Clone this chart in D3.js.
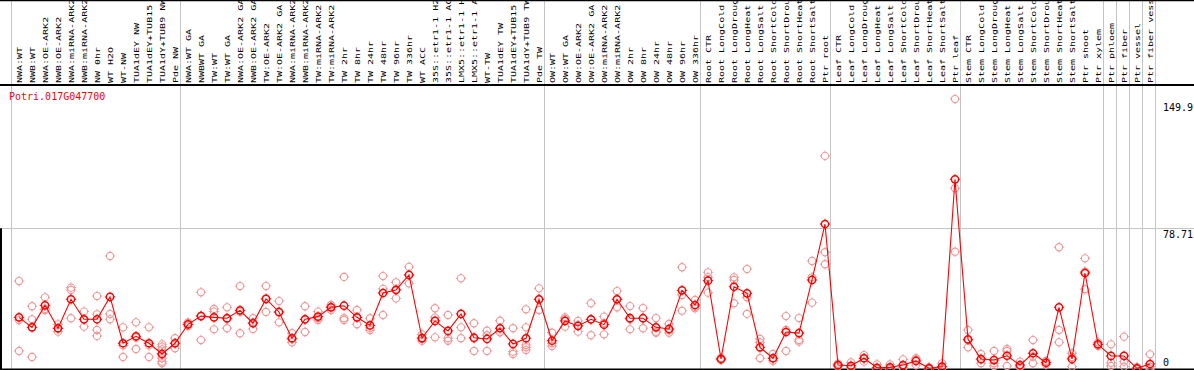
<!DOCTYPE html>
<html><head><meta charset="utf-8">
<script src="https://cdn.jsdelivr.net/npm/d3@7"></script>
<style>body{margin:0;background:#fff}svg{display:block}</style>
</head><body><svg id="c" width="1194" height="370"></svg>
<script>
const geneId = "Potri.017G047700";
const categories = [
 "NWA:WT","NWB:WT","NWA:OE-ARK2","NWB:OE-ARK2","NWA:miRNA-ARK2","NWB:miRNA-ARK2","NW 0hr","WT H2O","WT-NW","TUA1dEY NW","TUA1dEY+TUB15 NW","TUA1dY+TUB9 NW","Pde NW",
 "NWA:WT GA","NWBWT GA","TW:WT","TW:WT GA","NWA:OE-ARK2 GA","NWB:OE-ARK2 GA","TW:OE-ARK2","TW:OE-ARK2 GA","NWA:miRNA-ARK2 GA","NWB:miRNA-ARK2 GA","TW:miRNA-ARK2","TW:miRNA-ARK2 GA","TW 2hr","TW 8hr","TW 24hr","TW 48hr","TW 96hr","TW 336hr","WT ACC","35S::etr1-1 H2O","35S::etr1-1 ACC","LMX5::etr1-1 H2O","LMX5::etr1-1 ACC","WT-TW","TUA1dEY TW","TUA1dEY+TUB15 TW","TUA1dY+TUB9 TW","Pde TW",
 "OW:WT","OW:WT GA","OW:OE-ARK2","OW:OE-ARK2 GA","OW:miRNA-ARK2","OW:miRNA-ARK2 GA","OW 2hr","OW 8hr","OW 24hr","OW 48hr","OW 96hr","OW 336hr",
 "Root CTR","Root LongCold","Root LongDrought","Root LongHeat","Root LongSalt","Root ShortCold","Root ShortDrought","Root ShortHeat","Root ShortSalt","Ptr root",
 "Leaf CTR","Leaf LongCold","Leaf LongDrought","Leaf LongHeat","Leaf LongSalt","Leaf ShortCold","Leaf ShortDrought","Leaf ShortHeat","Leaf ShortSalt","Ptr leaf",
 "Stem CTR","Stem LongCold","Stem LongDrought","Stem LongHeat","Stem LongSalt","Stem ShortCold","Stem ShortDrought","Stem ShortHeat","Stem ShortSalt","Ptr shoot","Ptr xylem",
 "Ptr phloem","Ptr fiber","Ptr vessel","Ptr fiber vessel"
];
const groupBreaks = [0,13,41,53,63,73,84,85,86,87,88];
const meanValues = [
 28.9,23.3,35.6,22.8,39.0,27.8,27.8,40.3,14.4,18.3,14.4,8.4,14.4,
 25.0,29.6,28.9,28.4,32.8,25.6,39.2,31.9,17.2,27.8,29.3,34.5,35.4,28.9,24.4,42.5,44.2,52.6,17.3,26.9,21.3,30.8,17.5,16.8,22.8,14.0,17.2,39.0,
 15.8,26.9,24.1,27.8,24.8,39.0,28.4,28.4,23.3,22.4,44.0,35.8,
 49.4,5.6,46.0,42.3,12.1,6.0,20.7,20.1,49.8,81.1,
 2.2,1.8,6.0,0.7,0.9,2.2,4.5,0.4,1.3,106.1,
 16.6,5.6,5.0,7.4,2.2,8.8,3.5,34.5,5.6,53.7,13.8,
 7.3,7.3,0.4,2.8
];
const replicateValues = [
 [49.2,27.4,10.1],[35.1,27.8,6.7],[40.1,33.6,33.0],[25.0,20.9,22.6],[45.5,44.2,28.4],[32.1,27.6,23.7],[40.8,30.6,21.8,18.5],[63.2,30.8,27.8],[23.3,13.2,6.7],[26.1,17.6,11.2],[23.3,13.2,6.7],[13.8,12.5,11.0,8.4,6.0,4.1,3.2],[17.2,14.4,11.6],
 [26.0,25.0,24.0],[42.9,29.7,16.2],[33.6,32.1,22.2],[34.5,27.9,22.8],[46.4,32.0,20.0],[28.4,26.0,22.4],[46.4,39.3,31.9],[38.0,31.6,26.1],[20.0,16.7,14.9],[35.1,27.6,20.7],[32.1,28.4,27.4],[35.8,34.7,33.0],[51.5,28.4,27.4],[33.0,28.7,25.0],[28.4,23.0,21.8],[52.0,44.8,30.2],[48.5,44.6,39.5],[57.1,52.7,47.9],[19.4,16.8,15.7],[34.0,28.9,17.7],[30.2,17.2,15.8],[50.7,23.3,17.2],[25.6,17.0,10.1],[21.4,18.9,10.1],[27.0,20.9,20.5],[22.8,9.7,8.4],[33.4,23.3,13.4,12.1,10.6],[45.1,39.0,33.0],
 [20.3,14.4,12.8],[28.9,28.0,23.7],[26.9,24.4,20.9],[36.8,27.7,18.9],[29.3,25.7,19.4],[43.6,39.0,34.5],[35.2,27.8,22.2],[34.1,28.3,22.8],[28.5,20.9,20.3],[25.2,21.7,20.3],[56.9,41.4,32.6],[38.6,34.8,34.0],
 [54.1,51.4,42.7],[6.2,5.6,5.0],[51.3,49.8,36.8],[55.9,40.1,30.8],[16.8,14.9,6.0],[8.4,6.0,4.6],[29.6,21.8,10.1],[28.5,16.2,15.3],[60.4,51.3,37.1],[119.2,65.3,58.6],
 [3.0,2.2,1.4],[3.7,1.0,0.7],[7.8,6.0,4.1],[2.6,0.3,0.0],[2.6,0.2,0.0],[5.4,0.8,0.5],[6.0,5.2,2.2],[1.0,0.2,0.0],[3.2,0.5,0.3],[151.0,101.1,65.6],
 [21.8,16.0,12.1],[8.4,5.2,3.2],[10.1,3.2,1.7],[11.2,10.1,1.7],[4.1,1.5,1.0],[16.2,7.0,3.2],[4.5,3.5,2.5],[68.1,21.8,14.9],[8.8,6.7,1.3],[61.9,54.5,44.6],[14.9,13.8,12.9],
 [13.8,3.5,1.7],[18.1,4.1,1.3],[1.0,0.3,0.0],[8.2,1.3,0.0]
];
const tickValues = [0, 78.71, 149.9];
const tickLabels = ["0", "78.71", "149.9"];

const W = 1194, H = 370;
const svg = d3.select("#c");
const n = categories.length;
const x = d3.scaleBand().domain(d3.range(n)).range([12.5, 12.5 + 13 * n]);
const cx = i => x(i) + x.bandwidth() / 2;
const edge = k => 12.5 + k * x.step();
const y = d3.scaleLinear().domain([0, 149.9]).range([369, 101]);
const mono = "'DejaVu Sans Mono', monospace";

// separators
svg.append("g").selectAll("line").data(groupBreaks).join("line")
  .attr("x1", k => edge(k) - 1).attr("x2", k => edge(k) - 1)
  .attr("y1", 0).attr("y2", H)
  .attr("stroke", "#c4c4c4").attr("stroke-width", 1);

// grid line for inner ticks
svg.append("g").selectAll("line").data(tickValues.filter(v => v > 0 && v < 149.9)).join("line")
  .attr("x1", 0).attr("x2", W).attr("y1", v => Math.round(y(v)) + 0.5).attr("y2", v => Math.round(y(v)) + 0.5)
  .attr("stroke", "#c4c4c4").attr("stroke-width", 1);

// category labels
svg.append("g").selectAll("text").data(categories).join("text")
  .attr("transform", (d, i) => `translate(${cx(i) + 2.6},83) rotate(-90) scale(1,0.72)`)
  .attr("font-family", mono).attr("font-size", 10).attr("fill", "#000")
  .text(d => d);

// borders
svg.append("line").attr("x1", 0).attr("x2", W).attr("y1", 0.5).attr("y2", 0.5).attr("stroke", "#000").attr("stroke-width", 1.5);
svg.append("line").attr("x1", 0).attr("x2", W).attr("y1", 85).attr("y2", 85).attr("stroke", "#000").attr("stroke-width", 2);
svg.append("line").attr("x1", 0).attr("x2", W).attr("y1", 369.5).attr("y2", 369.5).attr("stroke", "#000").attr("stroke-width", 2);
svg.append("line").attr("x1", 1).attr("x2", 1).attr("y1", y(78.71)).attr("y2", H).attr("stroke", "#000").attr("stroke-width", 2);

// gene id
svg.append("text").attr("x", 9).attr("y", 100).attr("font-family", mono).attr("font-size", 10)
  .attr("fill", "#ff0000").text(geneId);

// tick labels
svg.append("g").selectAll("text").data(tickValues).join("text")
  .attr("x", 1163).attr("y", (v, i) => Math.min(y(v) + 9.5, 366))
  .attr("font-family", mono).attr("font-size", 10).attr("fill", "#000")
  .text((v, i) => tickLabels[i]);

function marker(g, color, sw) {
  g.append("circle").attr("r", 3.6).attr("fill", "none").attr("stroke", color).attr("stroke-width", sw);
  const t = [[0,-3.6,0,-5.2],[0,3.6,0,5.2],[-3.6,0,-5.2,0],[3.6,0,5.2,0]];
  t.forEach(a => g.append("line").attr("x1", a[0]).attr("y1", a[1]).attr("x2", a[2]).attr("y2", a[3])
    .attr("stroke", color).attr("stroke-width", 1));
}

// replicates
const reps = [];
replicateValues.forEach((arr, i) => arr.forEach(v => reps.push({i, v})));
svg.append("g").selectAll("g").data(reps).join("g")
  .attr("transform", d => `translate(${cx(d.i)},${y(d.v)})`)
  .each(function() { marker(d3.select(this), "#ee9a9a", 1.1); });

// mean line
svg.append("path").datum(meanValues)
  .attr("d", d3.line().x((d, i) => cx(i)).y(d => y(d)))
  .attr("fill", "none").attr("stroke", "#ff0000").attr("stroke-width", 1.1);

// mean markers
svg.append("g").selectAll("g").data(meanValues).join("g")
  .attr("transform", (d, i) => `translate(${cx(i)},${y(d)})`)
  .each(function() { marker(d3.select(this), "#ff0000", 1.5); });
</script>
</body></html>
